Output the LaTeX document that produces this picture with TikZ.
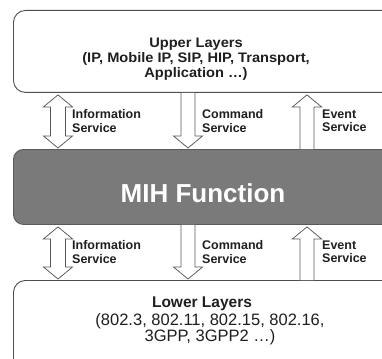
\documentclass[tikz,border=0pt]{standalone}
\usepackage{fontspec}
\setmainfont{Liberation Sans}
\newfontfamily\widesans{Liberation Sans}[FakeStretch=1.06]
\usetikzlibrary{calc}
\definecolor{edgegray}{HTML}{4E4E4E}
\definecolor{mihfill}{HTML}{7A7A7A}
\definecolor{mihedge}{HTML}{5A5A5A}
\definecolor{arrowgray}{HTML}{585858}
\tikzset{
  layerbox/.style={draw=edgegray, line width=0.9pt, rounded corners=12pt, fill=white,
    minimum width=400pt, anchor=north west, inner sep=0pt},
  mihbox/.style={draw=mihedge, line width=0.9pt, rounded corners=10pt, fill=mihfill,
    minimum width=400pt, anchor=north west, inner sep=0pt},
  blockarrow/.style={draw=arrowgray, line width=0.75pt, fill=white, line join=miter},
  svclabel/.style={anchor=west, align=left, inner sep=0pt,
    font=\bfseries\fontsize{12.5}{13.5}\selectfont, text=black!88},
  layertext/.style={align=center, inner sep=0pt, text=black!88},
}
% hollow block arrows between two boxes; #1 column, #2 top anchor, #3 bottom anchor
\newcommand\uparr[3]{%
  \draw[blockarrow] ($(#3 -| #1)+(-7,0)$) -- ($(#2 -| #1)+(-7,14)$) -- ($(#2 -| #1)+(-14.5,14)$)
    -- ($(#2 -| #1)+(0,2)$) -- ($(#2 -| #1)+(14.5,14)$) -- ($(#2 -| #1)+(7,14)$) -- ($(#3 -| #1)+(7,0)$);}
\newcommand\downarr[3]{%
  \draw[blockarrow] ($(#2 -| #1)+(-7,0)$) -- ($(#3 -| #1)+(-7,-13)$) -- ($(#3 -| #1)+(-14.5,-13)$)
    -- ($(#3 -| #1)+(0,-1)$) -- ($(#3 -| #1)+(14.5,-13)$) -- ($(#3 -| #1)+(7,-13)$) -- ($(#2 -| #1)+(7,0)$);}
\newcommand\botharr[3]{%
  \draw[blockarrow] ($(#2 -| #1)+(0,2)$) -- ($(#2 -| #1)+(14.5,14)$) -- ($(#2 -| #1)+(7.5,14)$)
    -- ($(#3 -| #1)+(7.5,-13)$) -- ($(#3 -| #1)+(14.5,-13)$) -- ($(#3 -| #1)+(0,-1)$)
    -- ($(#3 -| #1)+(-14.5,-13)$) -- ($(#3 -| #1)+(-7.5,-13)$) -- ($(#2 -| #1)+(-7.5,14)$)
    -- ($(#2 -| #1)+(-14.5,14)$) -- cycle;}
\begin{document}
\begin{tikzpicture}[x=1pt, y=-1pt]
  \useasboundingbox (0,0) rectangle (382,358);
  \clip (0,0) rectangle (382,358);
  \fill[white] (0,0) rectangle (382,358);

  % columns of the three services
  \coordinate (colI) at (58,0);
  \coordinate (colC) at (188,0);
  \coordinate (colE) at (307,0);

  % layer boxes
  \node[layerbox, minimum height=82pt] (up) at (13,10) {};
  \node[mihbox, minimum height=75pt] (mih) at (13,149) {};
  \node[layerbox, minimum height=100pt] (low) at (13,280) {};

  % texts of the boxes
  \node[layertext, font=\widesans\bfseries\fontsize{13.8}{14.8}\selectfont] (uptext) at (196,59)
    {Upper Layers\\(IP, Mobile IP, SIP, HIP, Transport,\\Application \dots)};
  \node[inner sep=0pt, text=white, font=\bfseries\fontsize{26}{26}\selectfont] (mihtext) at (203,193) {MIH Function};
  \node[layertext, font=\bfseries\fontsize{15.5}{16}\selectfont] (lowtitle) at (202,304) {Lower Layers};
  \node[layertext, font=\fontsize{16.5}{16}\selectfont] (lowlist) at (210,329.5)
    {(802.3, 802.11, 802.15, 802.16,\\3GPP, 3GPP2 \dots)};

  % service primitives between upper layers and MIH function
  \botharr{colI}{up.south}{mih.north}
  \downarr{colC}{up.south}{mih.north}
  \uparr{colE}{up.south}{mih.north}
  \node[svclabel] (infoU) at (72,121) {Information\\Service};
  \node[svclabel] (cmdU) at (202,121) {Command\\Service};
  \node[svclabel] (evtU) at (322,121) {Event\\Service};

  % service primitives between MIH function and lower layers
  \botharr{colI}{mih.south}{low.north}
  \downarr{colC}{mih.south}{low.north}
  \uparr{colE}{mih.south}{low.north}
  \node[svclabel] (infoL) at (72,252) {Information\\Service};
  \node[svclabel] (cmdL) at (202,252) {Command\\Service};
  \node[svclabel] (evtL) at (322,252) {Event\\Service};
\end{tikzpicture}
\end{document}
